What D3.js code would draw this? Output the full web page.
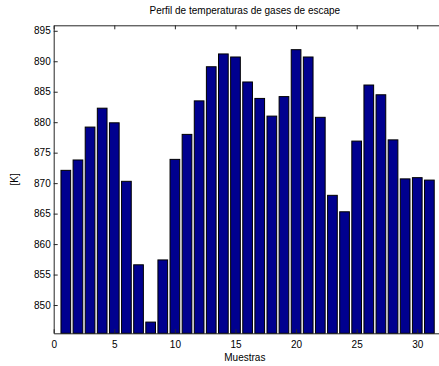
<!DOCTYPE html>
<html>
<head>
<meta charset="utf-8">
<script src="https://cdn.jsdelivr.net/npm/d3@7"></script>
<style>
  body { margin: 0; background: #fff; }
  text { font-family: "Liberation Sans", Arial, sans-serif; fill: #000; }
</style>
</head>
<body>
<div id="chart"></div>
<script>
// muestras 1..31 y temperatura de gases de escape [K]
const samples = d3.range(1, 32);
const temps = [
  872.1, 873.8, 879.2, 882.3, 879.9, 870.3, 856.6, 847.2, 857.4, 873.9,
  878.0, 883.5, 889.1, 891.2, 890.7, 886.6, 883.9, 881.0, 884.2, 891.9,
  890.7, 880.8, 868.0, 865.3, 876.9, 886.1, 884.5, 877.1, 870.7, 870.9, 870.5
];
const xTicks = [0, 5, 10, 15, 20, 25, 30];
const yTicks = [850, 855, 860, 865, 870, 875, 880, 885, 890, 895];

const width = 439, height = 366;
const plotLeft = 53.7, plotTop = 25.3, plotBottom = 333.3, plotRight = 441.5;

const svg = d3.select('#chart').append('svg')
  .attr('width', width)
  .attr('height', height);

const x = d3.scaleLinear().domain([0, 32]).range([plotLeft, plotRight]);
const y = d3.scaleLinear().domain([845.36, 895.9]).range([plotBottom, plotTop]);
const barW = (x(1) - x(0)) * 0.8;

// bars
svg.append('g')
  .selectAll('rect')
  .data(temps)
  .join('rect')
  .attr('x', (d, i) => x(samples[i]) - barW / 2)
  .attr('y', d => y(d))
  .attr('width', barW)
  .attr('height', d => plotBottom - y(d))
  .attr('fill', '#00008f')
  .attr('stroke', '#000')
  .attr('stroke-width', 1);

// axes box with inward ticks (MATLAB style)
const tickLen = 4;
const axisColor = '#262626';
const font = '"Liberation Sans", Arial, sans-serif';

svg.append('g')
  .attr('transform', `translate(0,${plotBottom})`)
  .call(d3.axisBottom(x).tickValues(xTicks).tickSizeInner(-tickLen).tickSizeOuter(0).tickPadding(8))
  .call(g => g.select('.domain').attr('stroke', axisColor))
  .call(g => g.selectAll('.tick line').attr('stroke', axisColor))
  .call(g => g.selectAll('text').attr('font-size', 10).attr('font-family', font));

svg.append('g')
  .attr('transform', `translate(0,${plotTop})`)
  .call(d3.axisTop(x).tickValues(xTicks).tickSizeInner(-tickLen).tickSizeOuter(0).tickFormat(''))
  .call(g => g.select('.domain').attr('stroke', axisColor))
  .call(g => g.selectAll('.tick line').attr('stroke', axisColor));

svg.append('g')
  .attr('transform', `translate(${plotLeft},0)`)
  .call(d3.axisLeft(y).tickValues(yTicks).tickSizeInner(-tickLen).tickSizeOuter(0).tickPadding(3))
  .call(g => g.select('.domain').attr('stroke', axisColor))
  .call(g => g.selectAll('.tick line').attr('stroke', axisColor))
  .call(g => g.selectAll('text').attr('font-size', 10).attr('font-family', font));

// titles
svg.append('text')
  .attr('x', (plotLeft + 436) / 2)
  .attr('y', 14)
  .attr('text-anchor', 'middle')
  .attr('font-size', 10)
  .text('Perfil de temperaturas de gases de escape');

svg.append('text')
  .attr('x', (plotLeft + 436) / 2)
  .attr('y', 361)
  .attr('text-anchor', 'middle')
  .attr('font-size', 10)
  .text('Muestras');

svg.append('text')
  .attr('transform', `translate(18,${(plotTop + plotBottom) / 2}) rotate(-90)`)
  .attr('text-anchor', 'middle')
  .attr('font-size', 10)
  .text('[K]');
</script>
</body>
</html>
